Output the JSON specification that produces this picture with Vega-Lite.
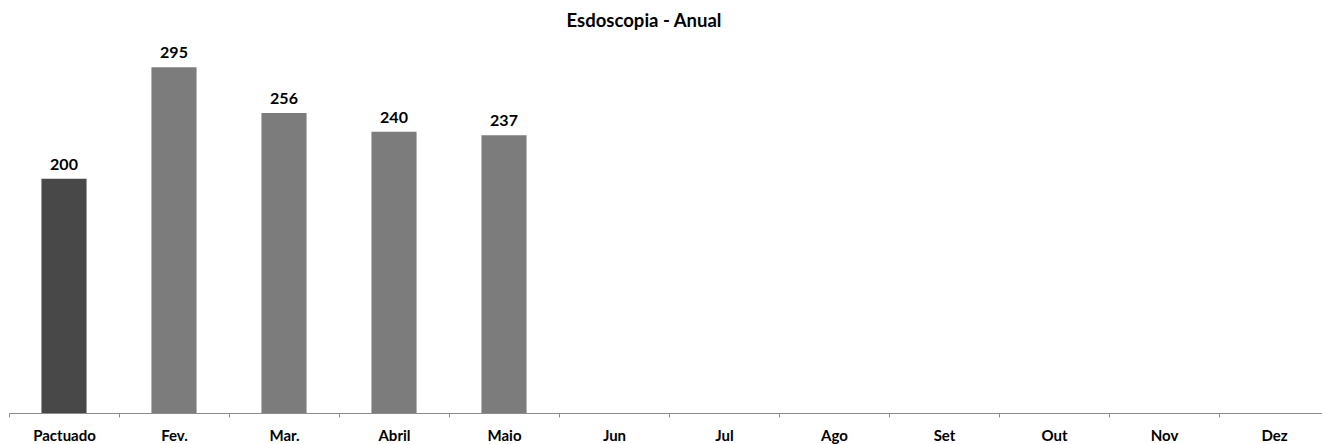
{
  "$schema": "https://vega.github.io/schema/vega-lite/v6.json",
  "autosize": "none",
  "padding": {"left": 9, "top": 38, "right": 0, "bottom": 31},
  "width": 1320,
  "height": 375,
  "background": "white",
  "title": {
    "text": "Esdoscopia - Anual",
    "font": "Lato",
    "fontSize": 18.5,
    "fontWeight": "bold",
    "color": "#000000",
    "anchor": "middle",
    "dx": -25,
    "offset": 8
  },
  "data": {
    "values": [
      {"mes": "Pactuado", "valor": 200, "tipo": "Pactuado"},
      {"mes": "Fev.", "valor": 295, "tipo": "Realizado"},
      {"mes": "Mar.", "valor": 256, "tipo": "Realizado"},
      {"mes": "Abril", "valor": 240, "tipo": "Realizado"},
      {"mes": "Maio", "valor": 237, "tipo": "Realizado"},
      {"mes": "Jun", "valor": null, "tipo": "Realizado"},
      {"mes": "Jul", "valor": null, "tipo": "Realizado"},
      {"mes": "Ago", "valor": null, "tipo": "Realizado"},
      {"mes": "Set", "valor": null, "tipo": "Realizado"},
      {"mes": "Out", "valor": null, "tipo": "Realizado"},
      {"mes": "Nov", "valor": null, "tipo": "Realizado"},
      {"mes": "Dez", "valor": null, "tipo": "Realizado"}
    ]
  },
  "encoding": {
    "x": {
      "field": "mes",
      "type": "nominal",
      "sort": null,
      "scale": {
        "domain": ["Pactuado", "Fev.", "Mar.", "Abril", "Maio", "Jun", "Jul", "Ago", "Set", "Out", "Nov", "Dez"],
        "paddingInner": 0,
        "paddingOuter": 0
      },
      "axis": {
        "title": null,
        "labelAngle": 0,
        "labelFont": "Lato",
        "labelFontSize": 15,
        "labelFontWeight": "bold",
        "labelColor": "#000000",
        "labelPadding": 11,
        "domainColor": "#8c8c8c",
        "tickColor": "#8c8c8c",
        "tickSize": 4,
        "tickBand": "extent"
      }
    },
    "y": {
      "field": "valor",
      "type": "quantitative",
      "scale": {"domain": [0, 320], "nice": false},
      "axis": null
    }
  },
  "layer": [
    {
      "mark": {"type": "bar", "width": {"band": 0.41}},
      "encoding": {
        "color": {
          "field": "tipo",
          "type": "nominal",
          "scale": {"domain": ["Pactuado", "Realizado"], "range": ["#484848", "#7c7c7c"]},
          "legend": null
        }
      }
    },
    {
      "mark": {"type": "text", "baseline": "alphabetic", "dy": -9, "font": "Lato", "fontSize": 16, "fontWeight": "bold", "color": "#000000"},
      "encoding": {
        "text": {"field": "valor", "type": "quantitative"}
      }
    }
  ],
  "config": {"view": {"stroke": null}}
}
